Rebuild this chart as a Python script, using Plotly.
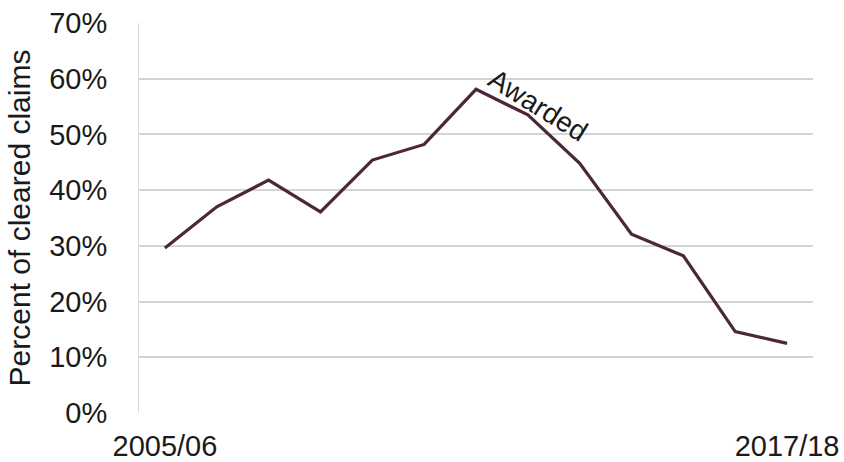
import plotly.graph_objects as go

years = ["2005/06", "2006/07", "2007/08", "2008/09", "2009/10", "2010/11", "2011/12",
         "2012/13", "2013/14", "2014/15", "2015/16", "2016/17", "2017/18"]
awarded_pct = [29.6, 37.0, 41.8, 36.1, 45.4, 48.2, 58.1, 53.5, 44.8, 32.1, 28.2, 14.6, 12.5]
y_ticks = [0, 10, 20, 30, 40, 50, 60, 70]
x_tick_labels = ["2005/06", "2017/18"]

font_family = "Liberation Sans, Arial, sans-serif"
text_color = "#1a1a1a"

fig = go.Figure()
fig.add_trace(go.Scatter(
    x=years, y=awarded_pct, mode="lines",
    line=dict(color="#4b2839", width=3.2),
    hoverinfo="skip", showlegend=False,
))

fig.add_annotation(
    x=7.2, y=55.2, xref="x", yref="y",
    text="Awarded", showarrow=False, textangle=32,
    font=dict(family=font_family, size=28, color=text_color),
)

fig.update_layout(
    width=844, height=462,
    margin=dict(l=139, r=31, t=23, b=49),
    paper_bgcolor="white", plot_bgcolor="white",
    font=dict(family=font_family, color=text_color),
    xaxis=dict(
        type="category", range=[-0.5, len(years) - 0.5], automargin=False,
        tickmode="array", tickvals=x_tick_labels, ticktext=x_tick_labels,
        showgrid=False, zeroline=False, showline=False,
        ticks="", ticklabelstandoff=13,
        tickfont=dict(size=29, color=text_color),
    ),
    yaxis=dict(
        range=[0, 70], automargin=False, tickmode="array", tickvals=y_ticks,
        ticktext=[f"{v}%" for v in y_ticks],
        showgrid=True, gridcolor="#d4d4d4", gridwidth=1.5,
        zeroline=False, showline=True, linecolor="#d9d9d9", linewidth=1,
        ticks="", ticklabelstandoff=25,
        tickfont=dict(size=29, color=text_color),
        title=dict(text="Percent of cleared claims", standoff=9,
                   font=dict(size=30, color=text_color)),
    ),
)

fig.write_html("out.html")
